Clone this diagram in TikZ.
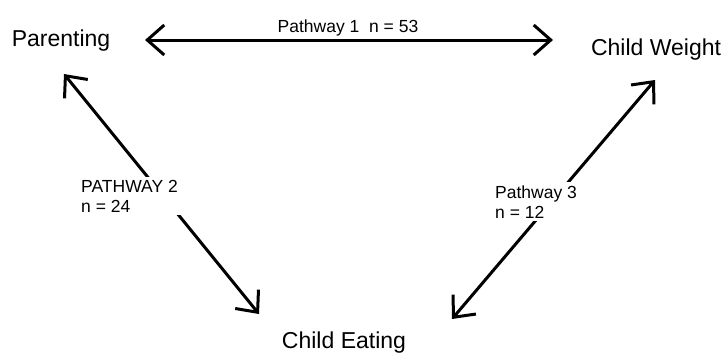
\documentclass[tikz,border=0pt]{standalone}
\usepackage{fontspec}
\setmainfont{Liberation Sans}
\usetikzlibrary{arrows.meta,positioning}
\tikzset{
  factor/.style={inner sep=0pt,anchor=base,font=\fontsize{23}{27}\selectfont},
  pathlbl/.style={inner sep=3pt,font=\fontsize{17.5}{20}\selectfont},
  link/.style={line width=3pt,{Straight Barb[length=17pt,width=30pt]}-{Straight Barb[length=17pt,width=30pt]}}
}
\begin{document}
\begin{tikzpicture}[x=1pt,y=-1pt]
\useasboundingbox (0,0) rectangle (728,354);
\node[factor] (par) at (61,46) {Parenting};
\node[factor] (wgt) at (656,55) {Child Weight};
\node[factor] (eat) at (344,348.5) {Child Eating};
% arrow ends
\coordinate (p1) at (145,40); \coordinate (w1) at (553,40);
\coordinate (p2) at (64,74); \coordinate (e2) at (259,314);
\coordinate (w3) at (655,80); \coordinate (e3) at (452,319);
\draw[link] (p1) -- (w1);
\draw[link] (p2) -- (e2);
\draw[link] (w3) -- (e3);
\node[pathlbl,anchor=base] (l1) at (348,32) {Pathway 1\ \ n = 53};
\node[pathlbl,fill=white,align=left,anchor=base west] (l2) at (78,212) {PATHWAY 2\\n = 24};
\node[pathlbl,fill=white,align=left,anchor=base west] (l3) at (492,218) {Pathway 3\\n = 12};
\end{tikzpicture}
\end{document}
